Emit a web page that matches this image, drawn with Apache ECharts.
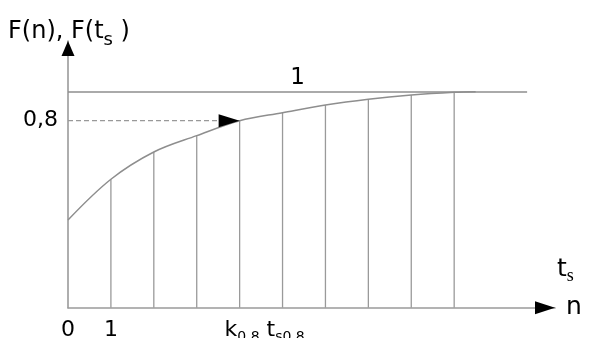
<!DOCTYPE html>
<html>
<head>
<meta charset="utf-8">
<script src="https://cdn.jsdelivr.net/npm/echarts@6/dist/echarts.min.js"></script>
<style>
  html, body { margin: 0; padding: 0; background: #ffffff; }
  #chart { width: 590px; height: 338px; }
</style>
</head>
<body>
<div id="chart"></div>
<script>
// Saturation curve F(n): share reached after n steps
const curveN = [0, 1, 2, 3, 4, 5, 6, 7, 8, 9, 9.5];
const curveF = [0.115, 0.396, 0.584, 0.697, 0.8, 0.855, 0.908, 0.948, 0.977, 0.996, 1.0];

// Ordinates drawn at every whole step
const stepN = [1, 2, 3, 4, 5, 6, 7, 8, 9];
const stepF = stepN.map(n => curveF[curveN.indexOf(n)]);

// Level 0.8 reached at step k0.8
const levelValue = 0.8;
const levelStep = 4;

// Asymptote F = 1
const fullValue = 1;
const fullLineEnd = 10.7;

// Axis ranges and tick labels
const xMin = 0, xMax = 11.35;
const yMin = -0.49, yMax = 1.35;
const xTickValues = [0, 1, 4];
const yTickValues = [0.8];

const FONT = 'DejaVu Sans';
const GREY = '#8e8e8e';

const chart = echarts.init(document.getElementById('chart'), null, { renderer: 'canvas' });

function xLabel(v) {
  if (v === 0) return '{m|0}';
  if (v === 1) return '{m|1}';
  return '{gap|}{m|k}{sub|0.8}{m| t}{sub|s0.8}';
}

chart.setOption({
  animation: false,
  backgroundColor: '#ffffff',
  grid: { left: 68, right: 35, top: 41, bottom: 30.3, containLabel: false, outerBoundsMode: 'none' },
  xAxis: {
    type: 'value', min: xMin, max: xMax,
    name: 'n', nameLocation: 'end', nameGap: 11,
    nameTextStyle: { fontFamily: FONT, fontSize: 25, color: '#000', verticalAlign: 'middle', padding: [0, 0, 2, 0] },
    axisLine: { show: true, onZero: false, lineStyle: { color: '#9a9a9a', width: 1.6 } },
    axisTick: { show: false },
    splitLine: { show: false },
    axisLabel: {
      customValues: xTickValues,
      formatter: xLabel,
      margin: 12,
      fontFamily: FONT, fontSize: 22, color: '#000',
      rich: {
        gap: { width: 50, fontSize: 22, lineHeight: 22, verticalAlign: 'top' },
        m: { fontSize: 22, fontFamily: FONT, color: '#000', lineHeight: 22, verticalAlign: 'top' },
        sub: { fontSize: 14, fontFamily: FONT, color: '#000', lineHeight: 25, verticalAlign: 'bottom' }
      }
    }
  },
  yAxis: {
    type: 'value', min: yMin, max: yMax,
    axisLine: { show: true, onZero: false, lineStyle: { color: '#9a9a9a', width: 1.6 } },
    axisTick: { show: false },
    splitLine: { show: false },
    axisLabel: {
      customValues: yTickValues,
      formatter: v => String(v).replace('.', ','),
      margin: 10,
      fontFamily: FONT, fontSize: 22, color: '#000'
    }
  },
  graphic: [
    {
      type: 'text', left: 8, top: 19.5,
      style: {
        text: '{m|F(n), F(t}{s|s}{m| )}',
        rich: {
          m: { fontFamily: FONT, fontSize: 24, fill: '#000', lineHeight: 24, verticalAlign: 'top' },
          s: { fontFamily: FONT, fontSize: 18, fill: '#000', lineHeight: 30, verticalAlign: 'bottom' }
        }
      }
    },
    {
      type: 'text', left: 557, top: 257,
      style: {
        text: '{t|t}{s|s}',
        rich: {
          t: { fontFamily: FONT, fontSize: 25, fill: '#000', lineHeight: 25, verticalAlign: 'top' },
          s: { fontFamily: 'Liberation Serif', fontSize: 18, fill: '#000', lineHeight: 28, verticalAlign: 'bottom' }
        }
      }
    }
  ],
  series: [
    {
      name: 'ordinates', type: 'custom', clip: false, z: 2,
      data: stepN.map((n, i) => [n, stepF[i]]),
      renderItem: (params, api) => {
        const top = api.coord([api.value(0), api.value(1)]);
        const bot = api.coord([api.value(0), yMin]);
        return { type: 'line', shape: { x1: top[0], y1: top[1], x2: bot[0], y2: bot[1] },
                 style: { stroke: '#9a9a9a', lineWidth: 1.3 } };
      }
    },
    {
      name: 'F', type: 'line', z: 3,
      data: curveN.map((n, i) => [n, curveF[i]]),
      smooth: 0.35,
      showSymbol: false, symbol: 'none',
      lineStyle: { color: GREY, width: 1.5 },
      markLine: {
        silent: true, symbol: 'none', animation: false,
        lineStyle: { color: GREY, width: 1.5, type: 'solid' },
        label: { show: true, position: 'insideMiddleTop', formatter: '1', distance: 2,
                 fontFamily: FONT, fontSize: 23, color: '#000' },
        data: [[{ coord: [0, fullValue] }, { coord: [fullLineEnd, fullValue] }]]
      }
    },
    {
      name: 'level', type: 'custom', clip: false, z: 4,
      data: [[levelStep, levelValue]],
      renderItem: (params, api) => {
        const tip = api.coord([api.value(0), api.value(1)]);
        const start = api.coord([0, api.value(1)]);
        return { type: 'group', children: [
          { type: 'line', shape: { x1: start[0], y1: start[1], x2: tip[0] - 20, y2: tip[1] },
            style: { stroke: '#999', lineWidth: 1.2, lineDash: [5, 3] } },
          { type: 'polygon', shape: { points: [[tip[0], tip[1]], [tip[0] - 21, tip[1] - 6.5], [tip[0] - 21, tip[1] + 6.5]] },
            style: { fill: '#000' } }
        ] };
      }
    },
    {
      name: 'arrows', type: 'custom', clip: false, z: 5,
      data: [[xMax, yMin, 0], [xMin, yMax, 1]],
      renderItem: (params, api) => {
        const tip = api.coord([api.value(0), api.value(1)]);
        const pts = api.value(2) === 0
          ? [[tip[0], tip[1]], [tip[0] - 20, tip[1] - 6.5], [tip[0] - 20, tip[1] + 6.5]]
          : [[tip[0], tip[1]], [tip[0] - 6.5, tip[1] + 15], [tip[0] + 6.5, tip[1] + 15]];
        return { type: 'polygon', shape: { points: pts }, style: { fill: '#000' } };
      }
    }
  ]
});
</script>
</body>
</html>
